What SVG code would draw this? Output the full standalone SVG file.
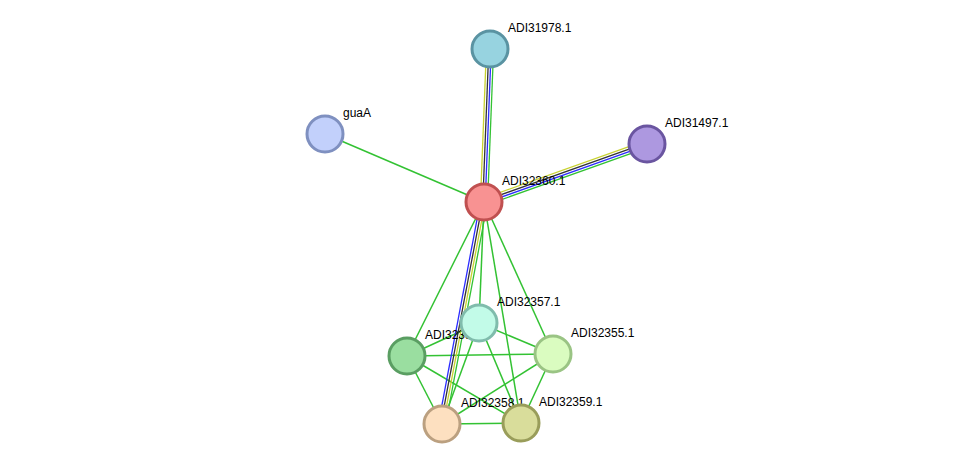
<svg xmlns="http://www.w3.org/2000/svg" width="976" height="470" viewBox="0 0 976 470">
<style>
.e{stroke:#33c233;stroke-width:1.5;fill:none}
.y{stroke:#c8d230;stroke-width:1.3}
.k{stroke:#333;stroke-width:1.3}
.b{stroke:#2b2bff;stroke-width:1.3}
.g{stroke:#33c233;stroke-width:1.3}
circle{stroke-width:3}
text{font-family:"Liberation Sans",Arial,sans-serif;font-size:12px;fill:#000}
</style>
<rect width="976" height="470" fill="#fff"/>
<g id="connectors">
<line class="e" x1="484" y1="202" x2="325" y2="134"/>
<line class="e" x1="484" y1="202" x2="407" y2="356"/>
<line class="e" x1="484" y1="202" x2="479" y2="323"/>
<line class="e" x1="484" y1="202" x2="553" y2="354"/>
<line class="e" x1="484" y1="202" x2="521" y2="423"/>
<line class="e" x1="407" y1="356" x2="479" y2="323"/>
<line class="e" x1="407" y1="356" x2="553" y2="354"/>
<line class="e" x1="407" y1="356" x2="442" y2="424"/>
<line class="e" x1="407" y1="356" x2="521" y2="423"/>
<line class="e" x1="479" y1="323" x2="553" y2="354"/>
<line class="e" x1="479" y1="323" x2="442" y2="424"/>
<line class="e" x1="479" y1="323" x2="521" y2="423"/>
<line class="e" x1="553" y1="354" x2="442" y2="424"/>
<line class="e" x1="553" y1="354" x2="521" y2="423"/>
<line class="e" x1="442" y1="424" x2="521" y2="423"/>
<g transform="translate(-3.6,0)"><line class="y" x1="484" y1="202" x2="490" y2="49"/></g>
<g transform="translate(-1.2,0)"><line class="k" x1="484" y1="202" x2="490" y2="49"/></g>
<g transform="translate(1.2,0)"><line class="b" x1="484" y1="202" x2="490" y2="49"/></g>
<g transform="translate(3.6,0)"><line class="g" x1="484" y1="202" x2="490" y2="49"/></g>
<g transform="translate(-1.2,-3.4)"><line class="y" x1="484" y1="202" x2="647" y2="144"/></g>
<g transform="translate(-0.4,-1.13)"><line class="k" x1="484" y1="202" x2="647" y2="144"/></g>
<g transform="translate(0.4,1.13)"><line class="b" x1="484" y1="202" x2="647" y2="144"/></g>
<g transform="translate(1.2,3.4)"><line class="g" x1="484" y1="202" x2="647" y2="144"/></g>
<g transform="translate(-3.54,-0.65)"><line class="b" x1="484" y1="202" x2="442" y2="424"/></g>
<g transform="translate(-1.18,-0.22)"><line class="k" x1="484" y1="202" x2="442" y2="424"/></g>
<g transform="translate(1.18,0.22)"><line class="y" x1="484" y1="202" x2="442" y2="424"/></g>
<g transform="translate(3.54,0.65)"><line class="g" x1="484" y1="202" x2="442" y2="424"/></g>
</g>
<g id="ADI31978.1"><circle cx="490" cy="49" r="18" fill="#97d3e0" stroke="#5a93a2"/><text x="508" y="32">ADI31978.1</text></g>
<g id="guaA"><circle cx="325" cy="134" r="18" fill="#c2d0fb" stroke="#7f90c0"/><text x="343" y="117">guaA</text></g>
<g id="ADI31497.1"><circle cx="647" cy="144" r="18" fill="#ad98e0" stroke="#6a55a0"/><text x="665" y="127">ADI31497.1</text></g>
<g id="ADI32360.1"><circle cx="484" cy="202" r="18" fill="#f89292" stroke="#c05050"/><text x="502" y="185">ADI32360.1</text></g>
<g id="ADI32356.1"><circle cx="407" cy="356" r="18" fill="#9adea0" stroke="#5a9e62"/><text x="425" y="339">ADI32356.1</text></g>
<g id="ADI32357.1"><circle cx="479" cy="323" r="18" fill="#c2fbe8" stroke="#80bcac"/><text x="497" y="306">ADI32357.1</text></g>
<g id="ADI32355.1"><circle cx="553" cy="354" r="18" fill="#dafcc0" stroke="#9ac484"/><text x="571" y="337">ADI32355.1</text></g>
<g id="ADI32358.1"><circle cx="442" cy="424" r="18" fill="#fde0c0" stroke="#bba080"/><text x="461" y="407">ADI32358.1</text></g>
<g id="ADI32359.1"><circle cx="521" cy="423" r="18" fill="#d9dd9b" stroke="#999d5a"/><text x="539" y="406">ADI32359.1</text></g>
</svg>
